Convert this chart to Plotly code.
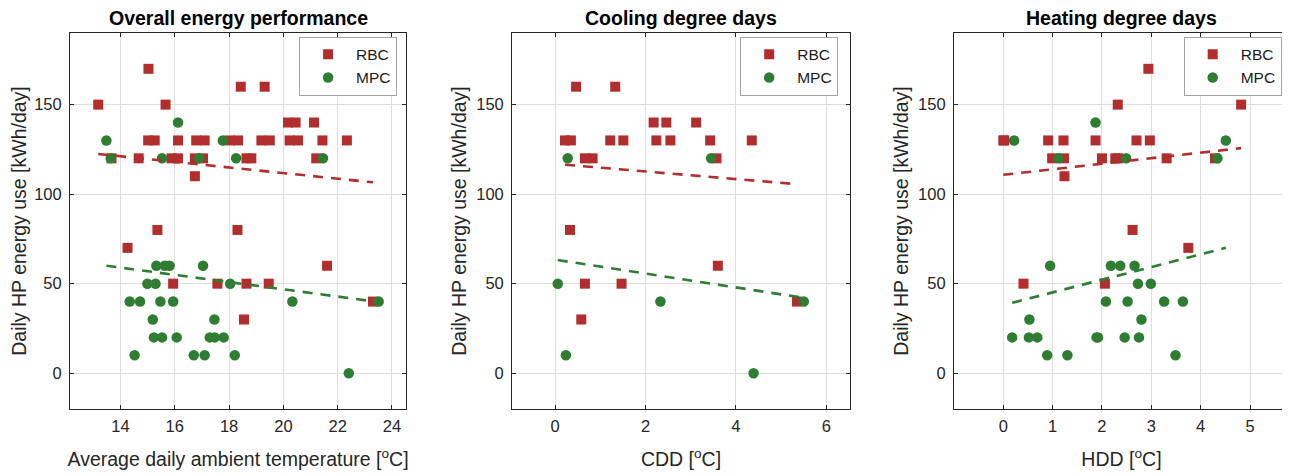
import plotly.graph_objects as go

# ---------------- data ----------------
titles = ["Overall energy performance", "Cooling degree days", "Heating degree days"]
x_titles = ["Average daily ambient temperature [<sup>o</sup>C]", "CDD [<sup>o</sup>C]", "HDD [<sup>o</sup>C]"]
y_title = "Daily HP energy use [kWh/day]"

# Panel 1: ambient temperature
temp_rbc_x = [13.18, 15.03, 15.66, 18.43, 19.31,
              15.02, 15.26, 16.12, 16.79, 17.10, 18.02, 18.33, 19.19, 19.50, 20.23, 20.54, 21.44, 22.34,
              20.17, 20.45, 21.13,
              13.67, 14.67, 15.88, 16.12, 16.74, 17.04, 18.64, 18.82, 21.21,
              16.74,
              14.26, 15.36, 18.31, 21.61, 15.94, 17.57, 18.64, 19.46, 18.55, 23.30]
temp_rbc_y = [150, 170, 150, 160, 160,
              130, 130, 130, 130, 130, 130, 130, 130, 130, 130, 130, 130, 130,
              140, 140, 140,
              120, 120, 120, 120, 120, 120, 120, 120, 120,
              110,
              70, 80, 80, 60, 50, 50, 50, 50, 30, 40]
temp_mpc_x = [13.48, 13.64, 15.53, 16.12, 16.90, 17.77, 18.26, 21.46,
              15.32, 15.63, 15.81, 17.04,
              14.99, 15.29, 18.04,
              14.34, 14.72, 15.47, 15.94, 20.33, 23.51,
              15.19, 17.46,
              15.23, 15.53, 16.07, 17.29, 17.47, 17.80,
              14.52, 16.70, 17.10, 18.21,
              22.41]
temp_mpc_y = [130, 120, 120, 140, 120, 130, 120, 120,
              60, 60, 60, 60,
              50, 50, 50,
              40, 40, 40, 40, 40, 40,
              30, 30,
              20, 20, 20, 20, 20, 20,
              10, 10, 10, 10,
              0]

# Panel 2: cooling degree days
cdd_rbc_x = [0.465, 1.33, 0.22, 0.35, 1.22, 1.51, 2.24, 2.55, 3.43, 4.35,
             2.18, 2.46, 3.12, 0.66, 0.83, 3.57, 0.33, 0.66, 1.47, 0.58, 3.60, 5.35]
cdd_rbc_y = [160, 160, 130, 130, 130, 130, 130, 130, 130, 130,
             140, 140, 140, 120, 120, 120, 80, 50, 50, 30, 60, 40]
cdd_mpc_x = [0.28, 3.45, 0.06, 0.24, 2.33, 4.39, 5.50]
cdd_mpc_y = [120, 120, 50, 10, 40, 0, 40]

# Panel 3: heating degree days
hdd_rbc_x = [0.00, 0.02, 0.91, 1.22, 1.87, 2.70, 2.97,
             0.99, 1.23, 2.00, 2.27, 2.33, 3.31, 4.29,
             1.24, 2.32, 2.94, 4.82, 2.62, 0.41, 2.06, 3.75]
hdd_rbc_y = [130, 130, 130, 130, 130, 130, 130,
             120, 120, 120, 120, 120, 120, 120,
             110, 150, 170, 150, 80, 50, 50, 70]
hdd_mpc_x = [0.22, 1.12, 1.87, 2.49, 4.34, 4.51,
             0.95, 2.18, 2.37, 2.66, 2.73, 2.99,
             2.08, 2.52, 3.26, 3.64, 0.53, 2.80,
             0.18, 0.52, 0.69, 1.89, 1.92, 2.46, 2.75,
             0.89, 1.30, 3.49]
hdd_mpc_y = [130, 120, 140, 120, 120, 130,
             60, 60, 60, 60, 50, 50,
             40, 40, 40, 40, 30, 30,
             20, 20, 20, 20, 20, 20, 20,
             10, 10, 10]

# Linear trend lines (slope, intercept)
rbc_trend_slope = [-1.565, -2.12, 3.09]
rbc_trend_intercept = [143.06, 116.9, 110.8]
mpc_trend_slope = [-2.022, -3.875, 7.11]
mpc_trend_intercept = [87.28, 63.4, 38.0]

x_ranges = [[12.14, 24.52], [-0.95, 6.52], [-1.0, 5.79]]
x_tickvals = [[14, 16, 18, 20, 22, 24], [0, 2, 4, 6], [0, 1, 2, 3, 4, 5]]
y_range = [-20, 190]
y_tickvals = [0, 50, 100, 150]

panels = [
    (temp_rbc_x, temp_rbc_y, temp_mpc_x, temp_mpc_y),
    (cdd_rbc_x, cdd_rbc_y, cdd_mpc_x, cdd_mpc_y),
    (hdd_rbc_x, hdd_rbc_y, hdd_mpc_x, hdd_mpc_y),
]

# ---------------- styling ----------------
OFF = 8  # page body margin in the browser
W, H = 1290 - OFF, 476 - OFF
# plot-area extents in screenshot pixels
LEFT, RIGHT, TOP, BOTTOM = 70.3, 1289.0, 33.3, 409.3
ML, MT = LEFT - OFF, TOP - OFF
MR, MB = W - (RIGHT - OFF), H - (BOTTOM - OFF)
PW, PH = W - ML - MR, H - MT - MB
RED = "#b22d2e"
GREEN = "#2e7d32"
FONT = "Liberation Sans, Arial, Helvetica, sans-serif"
TXT = "#262626"

x_domains_px = [(70.3, 406.3), (512.3, 850.0), (954.0, 1289.0)]
legend_right_px = [397.3, 838.3, 1281.7]
legend_top_px = 37.0


def px_x(p):
    return min(max((p - LEFT) / PW, 0.0), 1.0)


def px_y(p):
    return 1 - (p - TOP) / PH


fig = go.Figure()

for i, (rx, ry, mx, my) in enumerate(panels):
    xa = "x" if i == 0 else f"x{i+1}"
    ya = "y" if i == 0 else f"y{i+1}"
    lg = "legend" if i == 0 else f"legend{i+1}"
    fig.add_trace(go.Scatter(x=rx, y=ry, mode="markers", name="RBC",
                             marker=dict(symbol="square", size=10, color=RED),
                             xaxis=xa, yaxis=ya, legend=lg))
    fig.add_trace(go.Scatter(x=mx, y=my, mode="markers", name="MPC",
                             marker=dict(symbol="circle", size=10.5, color=GREEN),
                             xaxis=xa, yaxis=ya, legend=lg))
    rxl = [min(rx), max(rx)]
    mxl = [min(mx), max(mx)]
    fig.add_trace(go.Scatter(x=rxl, y=[rbc_trend_slope[i] * v + rbc_trend_intercept[i] for v in rxl],
                             mode="lines", line=dict(color=RED, width=2.6, dash="10px,8px"),
                             showlegend=False, hoverinfo="skip", xaxis=xa, yaxis=ya))
    fig.add_trace(go.Scatter(x=mxl, y=[mpc_trend_slope[i] * v + mpc_trend_intercept[i] for v in mxl],
                             mode="lines", line=dict(color=GREEN, width=2.6, dash="10px,8px"),
                             showlegend=False, hoverinfo="skip", xaxis=xa, yaxis=ya))

axis_common = dict(showline=True, linecolor=TXT, linewidth=1, mirror="ticks",
                   ticks="inside", ticklen=4, tickcolor=TXT, tickwidth=1,
                   showgrid=True, gridcolor="#dedede", gridwidth=1, zeroline=False,
                   automargin=False,
                   tickfont=dict(family=FONT, size=16.5, color=TXT))

layout = dict(width=W, height=H, margin=dict(l=ML, r=MR, t=MT, b=MB, autoexpand=False),
              paper_bgcolor="white", plot_bgcolor="white",
              font=dict(family=FONT, color=TXT), annotations=[])

for i in range(3):
    sfx = "" if i == 0 else str(i + 1)
    xd = [px_x(x_domains_px[i][0]), px_x(x_domains_px[i][1])]
    layout["xaxis" + sfx] = dict(axis_common, domain=xd, range=x_ranges[i],
                                 tickvals=x_tickvals[i], anchor="y" + sfx,
                                 ticklabelstandoff=2,
                                 title=dict(text=x_titles[i], font=dict(family=FONT, size=19.5, color=TXT), standoff=18))
    layout["yaxis" + sfx] = dict(axis_common, domain=[0, 1], range=y_range,
                                 tickvals=y_tickvals, anchor="x" + sfx,
                                 ticklabelstandoff=4,
                                 title=dict(text=y_title, font=dict(family=FONT, size=19.5, color=TXT), standoff=4))
    layout["legend" + sfx] = dict(x=px_x(legend_right_px[i]), xanchor="right",
                                  y=px_y(legend_top_px), yanchor="top",
                                  bgcolor="white", bordercolor="#a3a3a3", borderwidth=1,
                                  itemwidth=46,
                                  font=dict(family=FONT, size=15.5, color="#1a1a1a"))
    layout["annotations"].append(dict(text="<b>" + titles[i] + "</b>", showarrow=False,
                                      xref="paper", yref="paper",
                                      x=(xd[0] + xd[1]) / 2, xanchor="center",
                                      y=px_y(18), yanchor="middle",
                                      font=dict(family=FONT, size=19.5, color="black")))

fig.update_layout(**layout)
fig.write_html("out.html")
